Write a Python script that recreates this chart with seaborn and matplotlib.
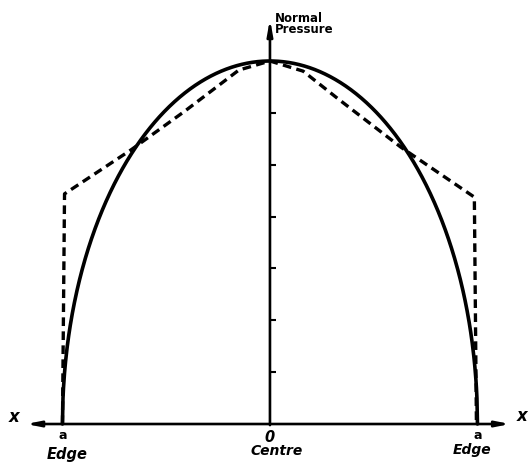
import numpy as np
import pandas as pd
import seaborn as sns
import matplotlib.pyplot as plt

sns.set_style("white")
plt.rcParams["font.family"] = ["DejaVu Sans"]

# Elliptical (Hertzian) normal pressure across the contact, edge a = 1, peak = 1
edge_a = 1.0
peak_pressure = 1.0

# Approximate (dashed) pressure profile
dashed_x = [-1.0, -0.99, -0.67, -0.41, -0.15, 0.0, 0.16, 0.33, 0.63, 0.985, 0.995]
dashed_p = [0.0, 0.634, 0.755, 0.862, 0.975, 1.0, 0.972, 0.895, 0.763, 0.625, 0.0]

# Scale marks on the pressure axis (sevenths of the peak)
tick_levels = [1, 2, 3, 4, 5, 6]
tick_divisions = 7

# Labels along the x axis
edge_label = "Edge"
centre_label = "Centre"

xs = np.linspace(-edge_a, edge_a, 801)
ellipse = pd.DataFrame({"x": xs,
                        "p": peak_pressure * np.sqrt(np.clip(1 - (xs / edge_a) ** 2, 0, None))})
dashed = pd.DataFrame({"x": dashed_x, "p": dashed_p})

fig = plt.figure(figsize=(5.31, 4.64), dpi=100)
ax = fig.add_axes([0, 0, 1, 1])
ax.set_xlim(-1.301, 1.258)
ax.set_ylim(-0.1074, 1.1708)
ax.axis("off")

ink = "black"

sns.lineplot(data=ellipse, x="x", y="p", ax=ax, color=ink, lw=2.6,
             sort=False, estimator=None, zorder=3)
sns.lineplot(data=dashed, x="x", y="p", ax=ax, color=ink, lw=2.4,
             linestyle=(0, (2.6, 1.6)), sort=False, estimator=None, zorder=3)

# Axes with arrowheads
ax.annotate("", xy=(0.0, 1.116), xytext=(0.0, -0.003),
            arrowprops=dict(arrowstyle="-|>,head_length=0.9,head_width=0.16",
                            color=ink, lw=1.9, shrinkA=0, shrinkB=0), zorder=4)
ax.annotate("", xy=(-1.175, 0.0), xytext=(1.157, 0.0),
            arrowprops=dict(arrowstyle="<|-|>,head_length=0.8,head_width=0.16",
                            color=ink, lw=1.9, shrinkA=0, shrinkB=0), zorder=4)

for k in tick_levels:
    yk = k / tick_divisions * peak_pressure
    ax.plot([-0.005, 0.03], [yk, yk], color=ink, lw=1.5, solid_capstyle="butt", zorder=4)

label_kw = dict(color=ink, fontweight="bold", fontstyle="italic")
ax.text(0.025, 1.105, "Normal\nPressure", fontsize=8.5, fontweight="heavy", color=ink,
        ha="left", va="center", linespacing=0.85)
ax.text(-1.235, 0.022, "x", fontsize=12, ha="center", va="center", **label_kw)
ax.text(1.215, 0.025, "x", fontsize=12, ha="center", va="center", **label_kw)
ax.text(-1.0, -0.028, "a", fontsize=9, ha="center", va="center", color=ink, fontweight="bold")
ax.text(1.0, -0.028, "a", fontsize=9, ha="center", va="center", color=ink, fontweight="bold")
ax.text(0.0, -0.034, "0", fontsize=10.5, ha="center", va="center", **label_kw)
ax.text(-0.977, -0.08, edge_label, fontsize=10.5, ha="center", va="center", **label_kw)
ax.text(0.03, -0.072, centre_label, fontsize=10, ha="center", va="center", **label_kw)
ax.text(0.975, -0.068, edge_label, fontsize=10, ha="center", va="center", **label_kw)

fig.savefig("out.png", dpi=100)
